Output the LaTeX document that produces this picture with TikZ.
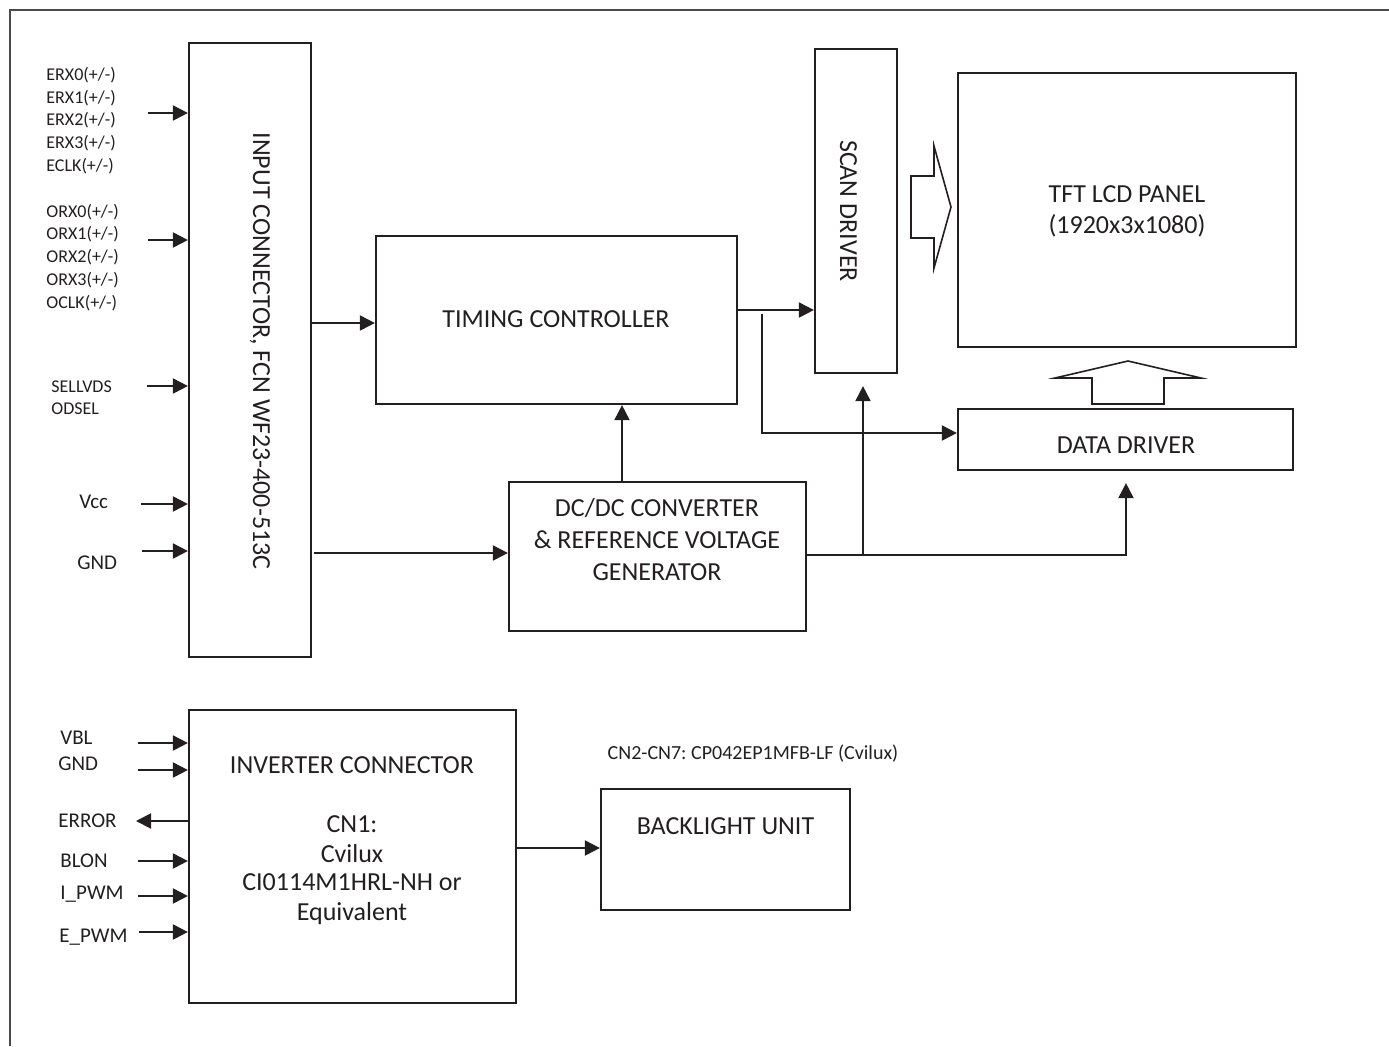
\documentclass[tikz,border=0pt]{standalone}
\usepackage{fontspec}
\setmainfont{Carlito}
\frenchspacing
\usetikzlibrary{arrows.meta,calc}
\definecolor{ink}{HTML}{231F20}
\definecolor{framegray}{HTML}{4A4A4A}
\begin{document}
\begin{tikzpicture}[x=0.5pt,y=-0.5pt,
  blk/.style={draw=ink, line width=1.1pt, inner sep=0pt},
  sz/.style 2 args={minimum width=#1*0.5pt, minimum height=#2*0.5pt},
  arr/.style={draw=ink, line width=1pt, -{Triangle[length=7.5pt,width=7.5pt]}},
  hollow/.style={draw=ink, line width=0.8pt, line join=miter},
  maintxt/.style={font=\fontsize{13}{16}\selectfont, text=ink, anchor=base, inner sep=0pt},
  vtxt/.style={maintxt, rotate=-90},
  sigs/.style={font=\fontsize{9}{11}\selectfont, text=ink, anchor=base west, inner sep=0pt},
  sigl/.style={font=\fontsize{10.5}{12}\selectfont, text=ink, anchor=base west, inner sep=0pt},
  note/.style={font=\fontsize{10}{12}\selectfont, text=ink, anchor=base, inner sep=0pt}]
\useasboundingbox (0,0) rectangle (1389,1046);

% page frame (top and left edges)
\draw[framegray, line width=0.8pt] (1389,10) -- (10,10) -- (10,1046);

% ---- blocks ----
\node[blk, sz={122}{614}] (inconn) at (250,350) {};
\node[vtxt] (inconntxt) at (253,351) {INPUT CONNECTOR, FCN WF23-400-513C};

\node[blk, sz={361}{168}] (tc) at (556.5,320) {};
\node[maintxt] (tctxt) at (556,327) {TIMING CONTROLLER};

\node[blk, sz={82}{324}] (scan) at (856,211) {};
\node[vtxt] (scantxt) at (840,211) {SCAN DRIVER};

\node[blk, sz={338}{274}] (panel) at (1127,210) {};
\node[maintxt] (paneltxta) at (1127,202) {TFT LCD PANEL};
\node[maintxt] (paneltxtb) at (1127,233) {(1920x3x1080)};

\node[blk, sz={335}{61}] (data) at (1125.5,439.5) {};
\node[maintxt] (datatxt) at (1126,453) {DATA DRIVER};

\node[blk, sz={297}{149}] (dcdc) at (657.5,556.5) {};
\node[maintxt] (dcdctxta) at (657,516) {DC/DC CONVERTER};
\node[maintxt] (dcdctxtb) at (657,548) {\& REFERENCE VOLTAGE};
\node[maintxt] (dcdctxtc) at (657,580) {GENERATOR};

\node[blk, sz={327}{293}] (inv) at (352.5,856.5) {};
\node[maintxt] (invtxta) at (352,773) {INVERTER CONNECTOR};
\node[maintxt] (invtxtb) at (352,832) {CN1:};
\node[maintxt] (invtxtc) at (352,862) {Cvilux};
\node[maintxt] (invtxtd) at (352,890) {CI0114M1HRL-NH or};
\node[maintxt] (invtxte) at (352,920) {Equivalent};

\node[blk, sz={249}{121}] (bl) at (725.5,849.5) {};
\node[maintxt] (bltxt) at (725.5,834) {BACKLIGHT UNIT};

\node[note] (cnnote) at (753,759) {CN2-CN7: CP042EP1MFB-LF (Cvilux)};

% ---- input connector signals ----
\node[sigs] (erx0) at (46,80)  {ERX0(+/-)};
\node[sigs] (erx1) at (46,103) {ERX1(+/-)};
\node[sigs] (erx2) at (46,125) {ERX2(+/-)};
\node[sigs] (erx3) at (46,148) {ERX3(+/-)};
\node[sigs] (eclk) at (46,171) {ECLK(+/-)};
\node[sigs] (orx0) at (46,217) {ORX0(+/-)};
\node[sigs] (orx1) at (46,239) {ORX1(+/-)};
\node[sigs] (orx2) at (46,262) {ORX2(+/-)};
\node[sigs] (orx3) at (46,285) {ORX3(+/-)};
\node[sigs] (oclk) at (46,308) {OCLK(+/-)};
\node[sigs] (sellvds) at (51,392) {SELLVDS};
\node[sigs] (odsel) at (51,414) {ODSEL};
\node[sigl] (vcc) at (79,508) {Vcc};
\node[sigl] (gnda) at (77,569) {GND};

\coordinate (erxin) at (148,113);
\coordinate (orxin) at (148,240);
\coordinate (selin) at (147,386);
\coordinate (vccin) at (141,504);
\coordinate (gndin) at (142,551);
\foreach \c in {erxin,orxin,selin,vccin,gndin}
  \draw[arr] (\c) -- (\c -| inconn.west);

% ---- inverter signals ----
\node[sigl] (vbl) at (60,744) {VBL};
\node[sigl] (gndb) at (58,770) {GND};
\node[sigl] (err) at (58,827) {ERROR};
\node[sigl] (blon) at (60,867) {BLON};
\node[sigl] (ipwm) at (60,899) {I\_PWM};
\node[sigl] (epwm) at (59,942) {E\_PWM};

\coordinate (vblin) at (138,743);
\coordinate (gndbin) at (138,770);
\coordinate (errout) at (136,821);
\coordinate (blonin) at (138,861);
\coordinate (ipwmin) at (138,896);
\coordinate (epwmin) at (139,932);
\foreach \c in {vblin,gndbin,blonin,ipwmin,epwmin}
  \draw[arr] (\c) -- (\c -| inv.west);
\draw[arr] (errout -| inv.west) -- (errout);

% ---- internal connections ----
\coordinate (tcin) at (311,323);
\draw[arr] (inconn.east |- tcin) -- (tcin -| tc.west);

\coordinate (dcin) at (314,553);
\draw[arr] (dcin) -- (dcin -| dcdc.west);

\coordinate (tcpwr) at (622,482);
\draw[arr] (tcpwr |- dcdc.north) -- (tcpwr |- tc.south);

\coordinate (scin) at (737,310);
\draw[arr] (tc.east |- scin) -- (scin -| scan.west);

\coordinate (brtop) at (762,314);
\coordinate (brbot) at (762,433);
\draw[arr] (brtop) -- (brbot) -- (brbot -| data.west);

\coordinate (pwrdata) at (1126,555);
\draw[arr, shorten >=6pt] (dcdc.east |- pwrdata) -- (pwrdata) -- (pwrdata |- data.south);
\coordinate (pwrscan) at (863,555);
\draw[arr, shorten >=6pt] (pwrscan) -- (pwrscan |- scan.south);

\coordinate (blin) at (516,848);
\draw[arr] (inv.east |- blin) -- (blin -| bl.west);

% ---- hollow bus arrows ----
\draw[hollow] (911,176) -- (934,176) -- (934,146) -- (951,207) -- (934,268)
  -- (934,238) -- (911,238) -- cycle;
\draw[hollow] (1092,404) -- (1092,378) -- (1055,378) -- (1128,361) -- (1201,378)
  -- (1164,378) -- (1164,404) -- cycle;
\end{tikzpicture}
\end{document}
